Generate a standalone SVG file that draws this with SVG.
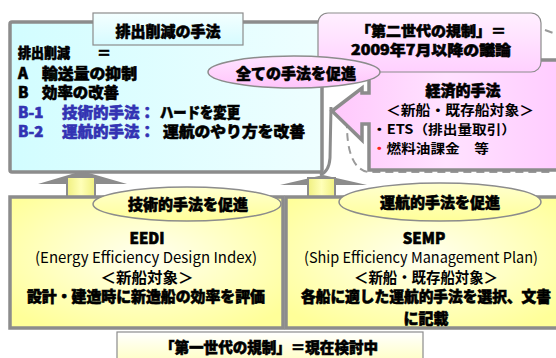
<svg xmlns="http://www.w3.org/2000/svg" width="556" height="358" viewBox="0 0 556 358">
<defs>
<linearGradient id="cyan" x1="0" y1="0" x2="1" y2="0"><stop offset="0" stop-color="#d2fdff"/><stop offset="1" stop-color="#eefeff"/></linearGradient>
<linearGradient id="cyanT" x1="0" y1="0" x2="0" y2="1"><stop offset="0" stop-color="#f4ffff"/><stop offset="1" stop-color="#d6fbff"/></linearGradient>
<linearGradient id="pinkC" x1="0" y1="0" x2="0" y2="1"><stop offset="0" stop-color="#fff0ff"/><stop offset="1" stop-color="#ffd0ff"/></linearGradient>
<linearGradient id="pinkE" x1="0" y1="0" x2="1" y2="0"><stop offset="0" stop-color="#ffc8fc"/><stop offset="0.5" stop-color="#ffe2ff"/><stop offset="1" stop-color="#ffccff"/></linearGradient>
<linearGradient id="pinkO" x1="0" y1="0" x2="0" y2="1"><stop offset="0" stop-color="#ffe4ff"/><stop offset="1" stop-color="#ffc4fb"/></linearGradient>
<radialGradient id="yel" cx="0.5" cy="0.45" r="0.65"><stop offset="0" stop-color="#fffff0"/><stop offset="1" stop-color="#ffff99"/></radialGradient>
<linearGradient id="yelO" x1="0" y1="0" x2="0" y2="1"><stop offset="0" stop-color="#ffffd0"/><stop offset="1" stop-color="#ffff99"/></linearGradient>
<linearGradient id="yelL" x1="0" y1="0" x2="0" y2="1"><stop offset="0" stop-color="#ffffff"/><stop offset="1" stop-color="#ffffb0"/></linearGradient>
<linearGradient id="shaft" x1="0" y1="0" x2="1" y2="0"><stop offset="0" stop-color="#f0f080"/><stop offset="0.5" stop-color="#ffffb8"/><stop offset="1" stop-color="#f0f080"/></linearGradient>
<style>
.t{font-family:"Noto Sans CJK JP","Noto Sans",sans-serif;font-weight:900;fill:#000;stroke:#000;stroke-width:0.6;dominant-baseline:central}
.r{font-family:"Noto Sans CJK JP","Noto Sans",sans-serif;font-weight:700;fill:#000;dominant-baseline:central}
.n{font-family:"Noto Sans CJK JP","Noto Sans",sans-serif;font-weight:400;fill:#000;dominant-baseline:central}
.b{fill:#3333b3;stroke:#3333b3}
.box{stroke:#8c8c8c;stroke-width:3.5}
.thin{stroke:#8c8c8c;stroke-width:1.2}
</style>
</defs>

<g id="left-box">
<rect class="box" x="10" y="22" width="312" height="150" rx="2" fill="url(#cyan)"/>
<text class="t" x="18" y="52" font-size="14" textLength="52" lengthAdjust="spacingAndGlyphs">排出削減</text>
<text class="t" x="97" y="52" font-size="14">＝</text>
<text class="t" x="18" y="72" font-size="15">A</text>
<text class="t" x="42" y="72" font-size="15" textLength="95" lengthAdjust="spacingAndGlyphs">輸送量の抑制</text>
<text class="t" x="18" y="91" font-size="15">B</text>
<text class="t" x="42" y="91" font-size="15" textLength="77" lengthAdjust="spacingAndGlyphs">効率の改善</text>
<text class="t b" x="18" y="111" font-size="15">B-1</text>
<text class="t b" x="62" y="111" font-size="15" textLength="93" lengthAdjust="spacingAndGlyphs">技術的手法：</text>
<text class="t" x="160" y="111" font-size="15" textLength="80" lengthAdjust="spacingAndGlyphs">ハードを変更</text>
<text class="t b" x="18" y="130" font-size="15">B-2</text>
<text class="t b" x="62" y="130" font-size="15" textLength="93" lengthAdjust="spacingAndGlyphs">運航的手法：</text>
<text class="t" x="163" y="130" font-size="15" textLength="142" lengthAdjust="spacingAndGlyphs">運航のやり方を改善</text>
</g>

<g id="title-label">
<rect class="thin" x="93" y="13" width="150" height="32" fill="url(#cyanT)" stroke-width="1.5"/>
<text class="t" x="168" y="30" font-size="15" text-anchor="middle">排出削減の手法</text>
</g>

<g id="connectors">
<path d="M331,107 L330,158 Q329,172 320,175" fill="none" stroke="#8c8c8c" stroke-width="3"/>
<path d="M347,120 Q346,168 368,172 L552,172 Q556,170 556,160 M545,30 L556,34" fill="none" stroke="#9a9a9a" stroke-width="2" stroke-dasharray="8,5"/>
<polygon points="38,184 82,171 127,184" fill="#8c8c8c"/>
<rect x="67" y="177" width="28" height="20" fill="url(#shaft)" stroke="#8c8c8c" stroke-width="2"/>
<polygon points="280,185 323,175 367,185" fill="#8c8c8c"/>
<rect x="308" y="178" width="27" height="19" fill="url(#shaft)" stroke="#8c8c8c" stroke-width="2"/>
</g>

<g id="economic-box">
<path class="box" d="M369,60 H560 V170 H369 V124 H362 V140 L332,111 L362,88 V93 H369 Z" fill="url(#pinkE)" stroke-linejoin="miter"/>
<text class="t" x="463" y="89" font-size="15" text-anchor="middle">経済的手法</text>
<text class="r" x="460" y="109" font-size="14" text-anchor="middle" textLength="148" lengthAdjust="spacingAndGlyphs">＜新船・既存船対象＞</text>
<text class="r" x="372" y="128" font-size="13" textLength="144" lengthAdjust="spacingAndGlyphs">・ETS（排出量取引）</text>
<text class="r" x="372" y="147" font-size="13" textLength="117" lengthAdjust="spacingAndGlyphs"><tspan fill="#ff2020">・</tspan>燃料油課金　等</text>
</g>

<g id="second-gen">
<rect x="318" y="13" width="223" height="59" rx="10" fill="url(#pinkC)" stroke="#8c8c8c" stroke-width="1.2"/>
<text class="t" x="431" y="30" font-size="14" text-anchor="middle" textLength="150" lengthAdjust="spacingAndGlyphs">「第二世代の規制」＝</text>
<text class="t" x="431" y="49" font-size="14" text-anchor="middle" textLength="160" lengthAdjust="spacingAndGlyphs">2009年7月以降の議論</text>
</g>

<g id="all-methods">
<ellipse cx="294" cy="72" rx="86" ry="16" fill="url(#pinkO)" stroke="#8c8c8c" stroke-width="1.5"/>
<text class="t" x="296" y="72" font-size="15" text-anchor="middle">全ての手法を促進</text>
</g>

<g id="eedi-box">
<rect class="box" x="10" y="197" width="273" height="131" fill="url(#yel)"/>
<text class="t" x="147" y="237" font-size="15" text-anchor="middle">EEDI</text>
<text class="n" x="146" y="256" font-size="15" text-anchor="middle" textLength="222" lengthAdjust="spacingAndGlyphs">(Energy Efficiency Design Index)</text>
<text class="r" x="147" y="276" font-size="15" text-anchor="middle" textLength="93" lengthAdjust="spacingAndGlyphs">＜新船対象＞</text>
<text class="t" x="146" y="295" font-size="15" text-anchor="middle" textLength="238" lengthAdjust="spacingAndGlyphs">設計・建造時に新造船の効率を評価</text>
</g>

<g id="tech-promote">
<ellipse cx="187" cy="204" rx="94" ry="17" fill="url(#yelO)" stroke="#8c8c8c" stroke-width="1.5"/>
<text class="t" x="188" y="203" font-size="15" text-anchor="middle">技術的手法を促進</text>
</g>

<g id="semp-box">
<rect class="box" x="286" y="197" width="274" height="131" fill="url(#yel)"/>
<text class="t" x="424" y="237" font-size="15" text-anchor="middle">SEMP</text>
<text class="n" x="421" y="256" font-size="15" text-anchor="middle" textLength="234" lengthAdjust="spacingAndGlyphs">(Ship Efficiency Management Plan)</text>
<text class="r" x="426" y="276" font-size="15" text-anchor="middle" textLength="144" lengthAdjust="spacingAndGlyphs">＜新船・既存船対象＞</text>
<text class="t" x="426" y="295" font-size="15" text-anchor="middle" textLength="250" lengthAdjust="spacingAndGlyphs">各船に適した運航的手法を選択、文書</text>
<text class="t" x="426" y="317" font-size="15" text-anchor="middle">に記載</text>
</g>

<g id="ops-promote">
<ellipse cx="440" cy="202" rx="101" ry="19" fill="url(#yelO)" stroke="#8c8c8c" stroke-width="1.5"/>
<text class="t" x="440" y="201" font-size="15" text-anchor="middle">運航的手法を促進</text>
</g>

<g id="first-gen">
<rect x="117" y="332" width="306" height="40" fill="url(#yelL)" stroke="#8c8c8c" stroke-width="1.2"/>
<text class="t" x="269" y="346" font-size="15" text-anchor="middle" textLength="218" lengthAdjust="spacingAndGlyphs">「第一世代の規制」＝現在検討中</text>
</g>
</svg>
